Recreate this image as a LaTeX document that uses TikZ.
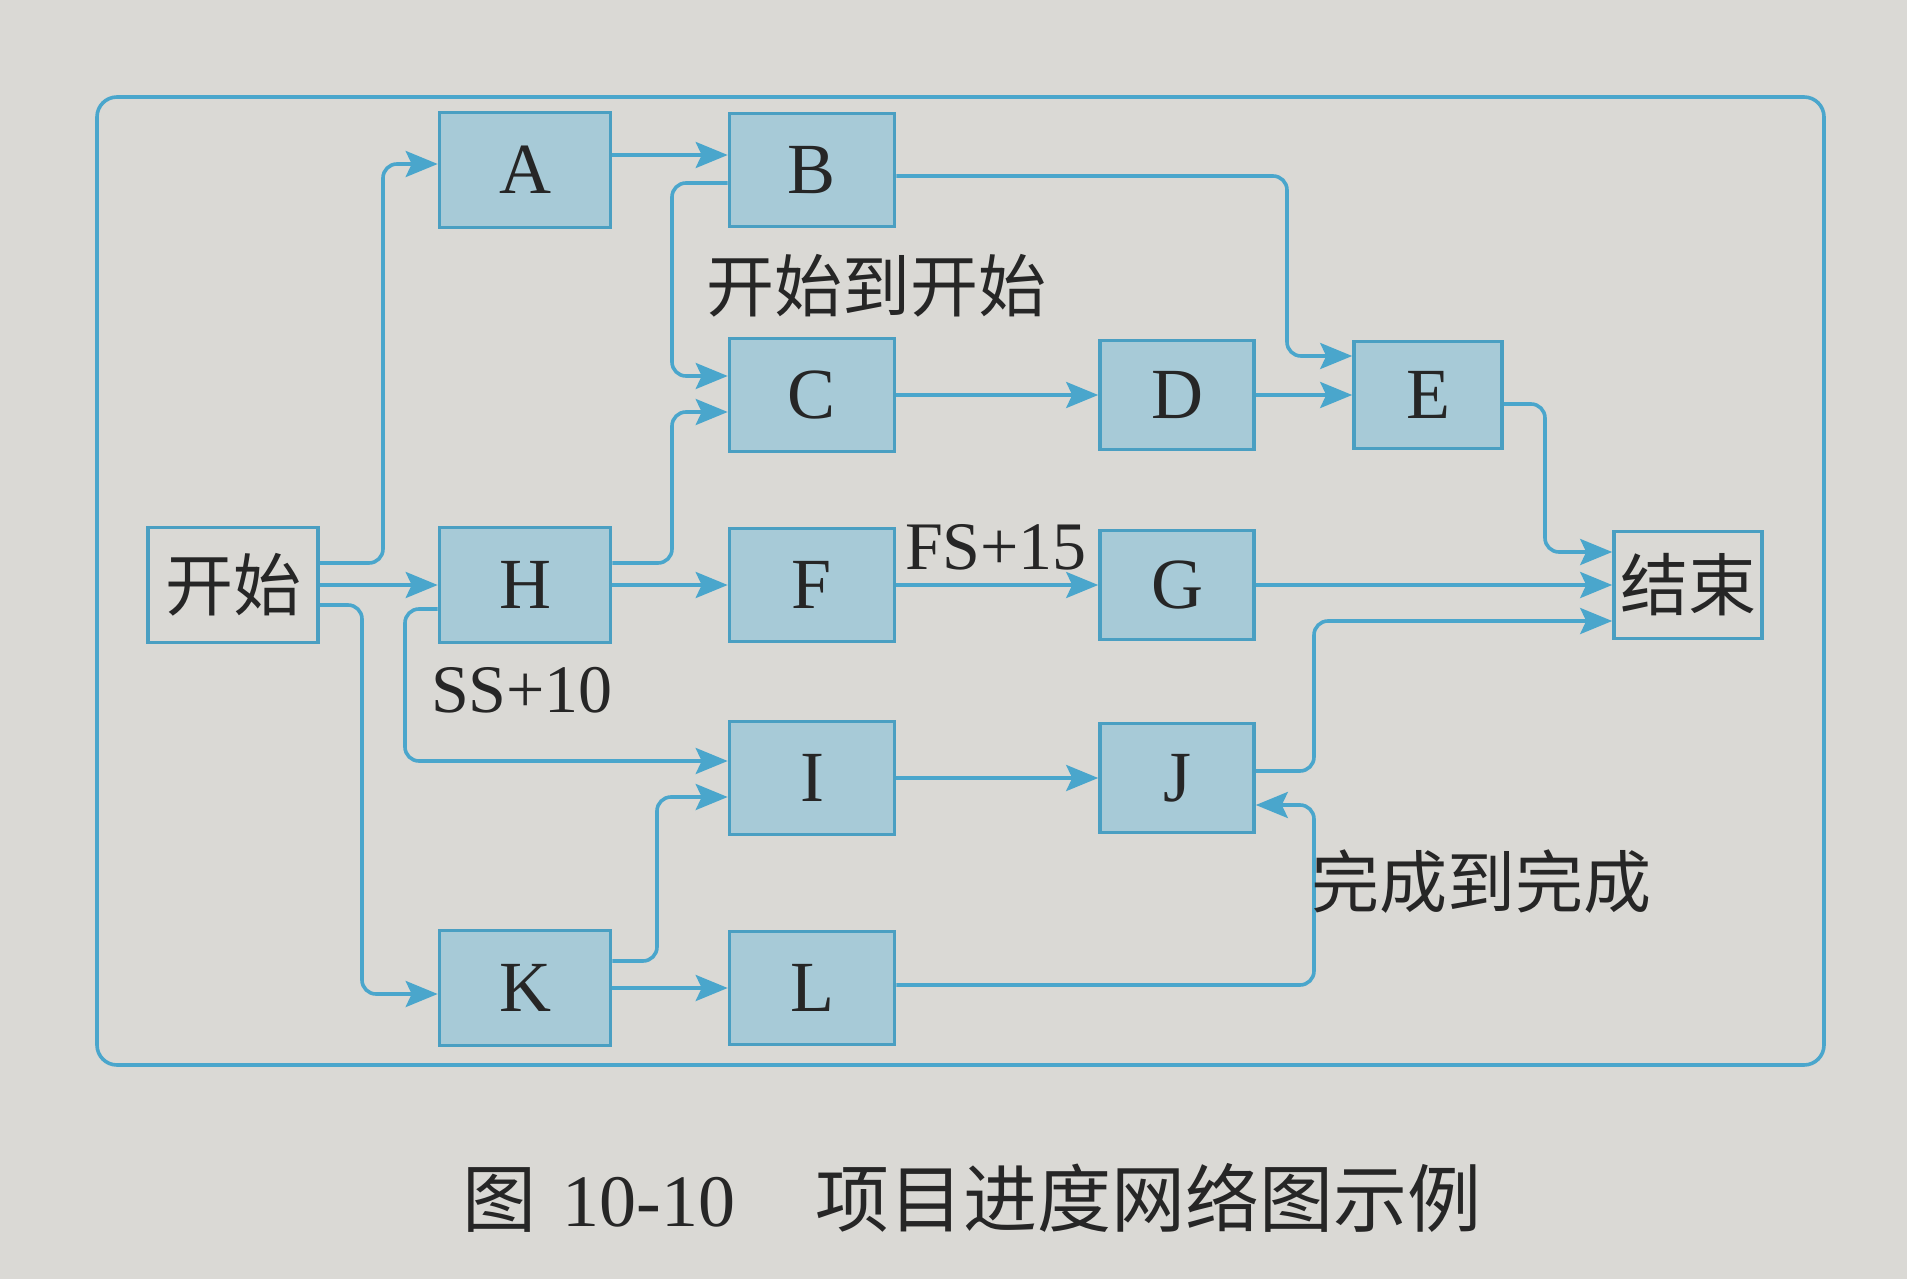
\documentclass[tikz,border=0pt]{standalone}
\usepackage{fontspec}
\setmainfont{Liberation Serif}
\newfontfamily\cjk{Noto Sans CJK SC}
\usetikzlibrary{arrows.meta,calc}
\definecolor{paper}{HTML}{DAD9D5}
\definecolor{boxfill}{HTML}{A7CAD7}
\definecolor{boxline}{HTML}{4A9FC2}
\definecolor{linec}{HTML}{4AA6CC}
\definecolor{txt}{HTML}{262626}
\tikzset{
  x=0.5pt, y=-0.5pt,
  task/.style={draw=boxline, fill=boxfill, line width=1.8pt, inner sep=0pt,
    text=txt, font=\fontsize{36}{40}\selectfont},
  termbox/.style={draw=boxline, fill=paper, line width=1.8pt, inner sep=0pt,
    text=txt, font=\cjk\fontsize{34}{38}\selectfont},
  colA/.style={minimum width=85.5pt, minimum height=57.5pt},
  colB/.style={minimum width=82.5pt, minimum height=56.5pt},
  colC/.style={minimum width=77pt, minimum height=54.5pt},
  colE/.style={minimum width=74pt, minimum height=53.5pt},
  conn/.style={draw=linec, line width=1.8pt, rounded corners=7pt,
    -{Stealth[length=16pt, width=13pt, inset=3pt]}},
  lbl/.style={text=txt, inner sep=0pt, font=\fontsize{34}{38}\selectfont},
  cjklbl/.style={text=txt, inner sep=0pt, font=\cjk\fontsize{34}{38}\selectfont},
}
\begin{document}
\begin{tikzpicture}
\useasboundingbox (0,0) rectangle (1907,1279);
\fill[paper] (0,0) rectangle (1907,1279);
% outer frame
\draw[draw=linec, line width=1.8pt, rounded corners=10pt] (97,97) rectangle (1824,1065);

% nodes
\node[termbox, minimum width=85pt, minimum height=57.5pt] (start) at (233,585) {开始};
\node[task, colA] (A) at (525,170) {A};
\node[task, colB] (B) at (812,170) {B};
\node[task, colB] (C) at (812,395) {C};
\node[task, colC] (D) at (1177,395) {D};
\node[task, colE] (E) at (1428,395) {E};
\node[task, colA] (H) at (525,585) {H};
\node[task, colB] (F) at (812,585) {F};
\node[task, colC] (G) at (1177,585) {G};
\node[termbox, colE] (end) at (1688,585) {结束};
\node[task, colB] (I) at (812,778) {I};
\node[task, colC] (J) at (1177,778) {J};
\node[task, colA] (K) at (525,988) {K};
\node[task, colB] (L) at (812,988) {L};

% routing coordinates
\coordinate (v1) at (383,0);
\coordinate (v3) at (362,0);
\coordinate (v5) at (672,0);
\coordinate (v8) at (405,0);
\coordinate (v11) at (1287,0);
\coordinate (v12) at (1545,0);
\coordinate (v15) at (1314,0);
\coordinate (v17) at (657,0);

\coordinate (s1) at ($(start.east)+(0,-22)$);
\coordinate (e1) at ($(A.west)+(0,-6)$);
\coordinate (s3) at ($(start.east)+(0,20)$);
\coordinate (e3) at ($(K.west)+(0,6)$);
\coordinate (s4) at ($(A.east)+(0,-15)$);
\coordinate (e4) at ($(B.west)+(0,-15)$);
\coordinate (s5) at ($(B.west)+(0,13)$);
\coordinate (e5) at ($(C.west)+(0,-19)$);
\coordinate (s6) at ($(H.east)+(0,-22)$);
\coordinate (e6) at ($(C.west)+(0,17)$);
\coordinate (s8) at ($(H.west)+(0,24)$);
\coordinate (e8) at ($(I.west)+(0,-17)$);
\coordinate (s11) at ($(B.east)+(0,6)$);
\coordinate (e11) at ($(E.west)+(0,-39)$);
\coordinate (s12) at ($(E.east)+(0,9)$);
\coordinate (e12) at ($(end.west)+(0,-33)$);
\coordinate (s15) at ($(J.east)+(0,-7)$);
\coordinate (e15) at ($(end.west)+(0,36)$);
\coordinate (s17) at ($(K.east)+(0,-27)$);
\coordinate (e17) at ($(I.west)+(0,19)$);
\coordinate (s19) at ($(L.east)+(0,-3)$);
\coordinate (e19) at ($(J.east)+(0,27)$);

% connectors
\draw[conn] (s1) -- (s1 -| v1) |- (e1);
\draw[conn] (start.east) -- (H.west);
\draw[conn] (s3) -- (s3 -| v3) |- (e3);
\draw[conn] (s4) -- (e4);
\draw[conn] (s5) -- (s5 -| v5) |- (e5);
\draw[conn] (s6) -- (s6 -| v5) |- (e6);
\draw[conn] (H.east) -- (F.west);
\draw[conn] (s8) -- (s8 -| v8) |- (e8);
\draw[conn] (C.east) -- (D.west);
\draw[conn] (D.east) -- (E.west);
\draw[conn] (s11) -- (s11 -| v11) |- (e11);
\draw[conn] (s12) -- (s12 -| v12) |- (e12);
\draw[conn] (F.east) -- (G.west);
\draw[conn] (G.east) -- (end.west);
\draw[conn] (s15) -- (s15 -| v15) |- (e15);
\draw[conn] (I.east) -- (J.west);
\draw[conn] (s17) -- (s17 -| v17) |- (e17);
\draw[conn] (K.east) -- (L.west);
\draw[conn] (s19) -- (s19 -| v15) |- (e19);

% labels
\node[cjklbl] (l1) at (876,286) {开始到开始};
\node[lbl] (l2) at (522,690) {SS+10};
\node[lbl] (l3) at (996,547) {FS+15};
\node[cjklbl] (l4) at (1481,882) {完成到完成};

% caption
\node[text=txt, inner sep=0pt, anchor=west, font=\fontsize{37}{41}\selectfont] (cap) at (462,1198)
  {{\cjk 图}\hspace{13pt}10-10\hspace{40pt}{\cjk 项目进度网络图示例}};
\end{tikzpicture}
\end{document}
